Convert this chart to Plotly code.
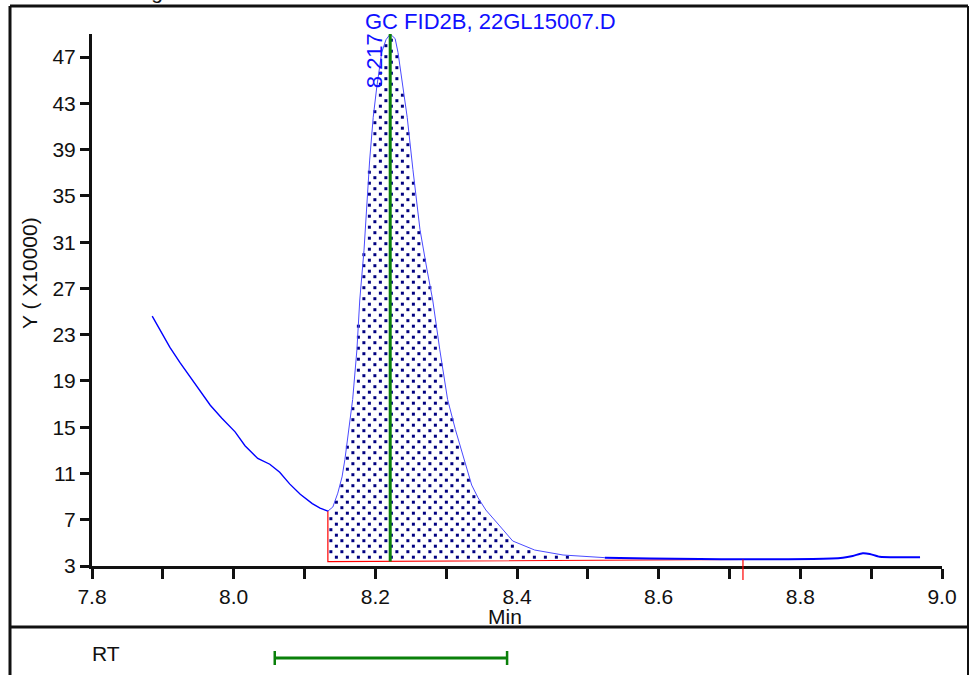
import numpy as np
import plotly.graph_objects as go

# ---------------- data ----------------
time_min = [7.885, 7.896, 7.910, 7.924, 7.938, 7.952, 7.967, 7.983, 8.002, 8.016,
            8.034, 8.051, 8.065, 8.079, 8.094, 8.111, 8.122, 8.133,
            8.140, 8.147, 8.153, 8.157, 8.163, 8.168, 8.174, 8.178, 8.184, 8.188,
            8.192, 8.197, 8.202, 8.209, 8.215, 8.221,
            8.228, 8.232, 8.239, 8.245, 8.253, 8.263, 8.273, 8.281, 8.291, 8.302,
            8.313, 8.326, 8.336, 8.345, 8.356, 8.372, 8.394, 8.425, 8.465, 8.524,
            8.588, 8.658, 8.719, 8.771, 8.818, 8.860, 8.874, 8.888, 8.898, 8.912,
            8.940, 8.969]
signal = [24.6, 23.4, 21.9, 20.6, 19.4, 18.2, 16.9, 15.8, 14.6, 13.4,
          12.3, 11.8, 11.1, 10.1, 9.2, 8.4, 8.0, 7.75,
          8.1, 9.3, 10.7, 12.2, 14.8, 17.4, 21.7, 26.0, 30.3, 34.7,
          38.1, 41.8, 44.4, 47.4, 48.5, 49.0,
          48.6, 47.4, 44.4, 41.8, 37.3, 32.1, 28.6, 26.0, 21.7, 17.4,
          14.8, 12.2, 10.0, 8.9, 7.84, 6.72, 5.16, 4.38, 3.95, 3.72,
          3.65, 3.60, 3.58, 3.59, 3.60, 3.72, 3.87, 4.10, 4.04, 3.80,
          3.75, 3.75]

baseline_time = [8.133, 8.719]
baseline_level = [3.37, 3.56]
fill_start, fill_end = 8.133, 8.524
rt_apex = 8.221
rt_label = "8.217"
rt_window = [8.058, 8.386]

title_text = "GC FID2B, 22GL15007.D"
header_text = "Chromatogram"
y_title = "Y ( X10000)"
x_title = "Min"
panel_label = "RT"
x_range = [7.8, 9.0]
y_range = [3, 49]
y_tick0, y_dtick = 3, 4

# ---------------- layout geometry ----------------
W, H = 972, 675
L, R, T, B = 92, 30, 34, 109
pw, ph = W - L - R, H - T - B
x_per_px = (x_range[1] - x_range[0]) / pw
y_per_px = (y_range[1] - y_range[0]) / ph


def px(xp):
    return (xp - L) / pw


def py(yp):
    return (H - B - yp) / ph


# ---------------- figure ----------------
t = np.array(time_min)
s = np.array(signal)

FONT = "Liberation Sans, Arial, sans-serif"
BLUE = "#0000ff"
GREEN = "#0a800a"

fig = go.Figure()

# dotted integration area: staggered dot hatch clipped to the area between
# the signal and the baseline (11 px x 5.5 px staggered screen grid)
hx, hy = 11 * x_per_px, 5.5 * y_per_px
rows = np.arange(y_range[0] + hy * 0.6, y_range[1], hy)
dot_x, dot_y = [], []
for i, yv in enumerate(rows):
    off = (hx / 2) if i % 2 else 0.0
    xs = np.arange(fill_start + 3 * x_per_px + off, fill_end, hx)
    top = np.interp(xs, t, s)
    bot = np.interp(xs, baseline_time, baseline_level)
    keep = (yv < top - 1.5 * y_per_px) & (yv > bot + 1.5 * y_per_px)
    dot_x.extend(xs[keep])
    dot_y.extend([yv] * int(keep.sum()))
fig.add_trace(go.Scatter(
    x=dot_x, y=dot_y, mode="markers",
    marker=dict(symbol="square", size=3, color="#000080", line=dict(width=0)),
    hoverinfo="skip", showlegend=False))

# red baseline
s_start = float(np.interp(baseline_time[0], t, s))
fig.add_trace(go.Scatter(
    x=[baseline_time[0], baseline_time[0], baseline_time[1]],
    y=[s_start, baseline_level[0], baseline_level[1]],
    mode="lines", line=dict(color="#ff0000", width=1.2),
    hoverinfo="skip", showlegend=False))

# signal segments
left = t <= fill_start
peak = (t >= fill_start) & (t <= fill_end)
tail = t >= fill_end
fig.add_trace(go.Scatter(x=t[left], y=s[left], mode="lines",
                         line=dict(color=BLUE, width=1.4), showlegend=False))
fig.add_trace(go.Scatter(x=t[peak], y=s[peak], mode="lines",
                         line=dict(color="#4a4aff", width=1),
                         showlegend=False))
fig.add_trace(go.Scatter(x=t[tail], y=s[tail], mode="lines",
                         line=dict(color=BLUE, width=2, shape="spline", smoothing=0.6),
                         showlegend=False))

# retention time marker
apex_val = float(np.interp(rt_apex, t, s))
base_at_rt = float(np.interp(rt_apex, baseline_time, baseline_level))
fig.add_trace(go.Scatter(x=[rt_apex, rt_apex], y=[base_at_rt, apex_val], mode="lines",
                         line=dict(color=GREEN, width=3), showlegend=False))

shapes = []
frame = dict(color="#111111", width=3)
# outer frame + separator
shapes.append(dict(type="line", xref="paper", yref="paper", x0=px(10), x1=px(10), y0=py(6), y1=py(700), line=frame))
shapes.append(dict(type="line", xref="paper", yref="paper", x0=px(10), x1=px(968), y0=py(6), y1=py(6), line=frame))
shapes.append(dict(type="line", xref="paper", yref="paper", x0=px(968), x1=px(968), y0=py(6), y1=py(700), line=dict(color="#111111", width=2)))
shapes.append(dict(type="line", xref="paper", yref="paper", x0=px(10), x1=px(968), y0=py(627), y1=py(627), line=frame))
# red end-of-baseline tick
shapes.append(dict(type="line", xref="x", yref="paper", x0=baseline_time[1], x1=baseline_time[1],
                   y0=(baseline_level[1] - y_range[0]) / (y_range[1] - y_range[0]), y1=py(580),
                   line=dict(color="#ff0000", width=1.2)))
# RT window bar
bar_y = py(658)
shapes.append(dict(type="line", xref="x", yref="paper", x0=rt_window[0], x1=rt_window[1],
                   y0=bar_y, y1=bar_y, line=dict(color=GREEN, width=3)))
for xv in rt_window:
    shapes.append(dict(type="line", xref="x", yref="paper", x0=xv, x1=xv,
                       y0=py(651), y1=py(665), line=dict(color=GREEN, width=2.5)))

annotations = [
    dict(text=title_text, xref="paper", yref="paper", x=px(490), y=py(21),
         xanchor="center", yanchor="middle", showarrow=False,
         font=dict(family=FONT, size=22, color="#1010ff")),
    dict(text=rt_label, xref="x", yref="paper", x=rt_apex, xshift=-15, y=py(61),
         xanchor="center", yanchor="middle", textangle=-90, showarrow=False,
         font=dict(family=FONT, size=22, color="#1010ff")),
    dict(text=y_title, xref="paper", yref="paper", x=px(29), y=py(273),
         xanchor="center", yanchor="middle", textangle=-90, showarrow=False,
         font=dict(family=FONT, size=21, color="#111111")),
    dict(text=x_title, xref="paper", yref="paper", x=px(505), y=py(616),
         xanchor="center", yanchor="middle", showarrow=False,
         font=dict(family=FONT, size=21, color="#111111")),
    dict(text=panel_label, xref="paper", yref="paper", x=px(106), y=py(653),
         xanchor="center", yanchor="middle", showarrow=False,
         font=dict(family=FONT, size=21, color="#111111")),
    dict(text=header_text, xref="paper", yref="paper", x=px(57), y=py(-8),
         xanchor="left", yanchor="middle", showarrow=False,
         font=dict(family=FONT, size=21, color="#111111")),
]

fig.update_layout(
    width=W, height=H,
    margin=dict(l=L, r=R, t=T, b=B, pad=0),
    paper_bgcolor="white", plot_bgcolor="white",
    showlegend=False, hovermode=False,
    font=dict(family=FONT, size=21, color="#111111"),
    shapes=shapes, annotations=annotations,
)
fig.update_xaxes(
    range=x_range, showgrid=False, zeroline=False,
    showline=True, linecolor="#111111", linewidth=3,
    ticks="outside", ticklen=10, tickwidth=3, tickcolor="#111111",
    tick0=x_range[0], dtick=0.2, tickformat=".1f",
    tickfont=dict(family=FONT, size=21, color="#111111"),
    minor=dict(dtick=0.1, tick0=x_range[0], ticks="outside", ticklen=10,
               tickwidth=3, tickcolor="#111111", showgrid=False),
)
fig.update_yaxes(
    range=y_range, showgrid=False, zeroline=False,
    showline=True, linecolor="#111111", linewidth=3,
    ticks="outside", ticklen=9, tickwidth=3, tickcolor="#111111",
    tick0=y_tick0, dtick=y_dtick,
    tickfont=dict(family=FONT, size=21, color="#111111"),
)

fig.write_html("out.html")
